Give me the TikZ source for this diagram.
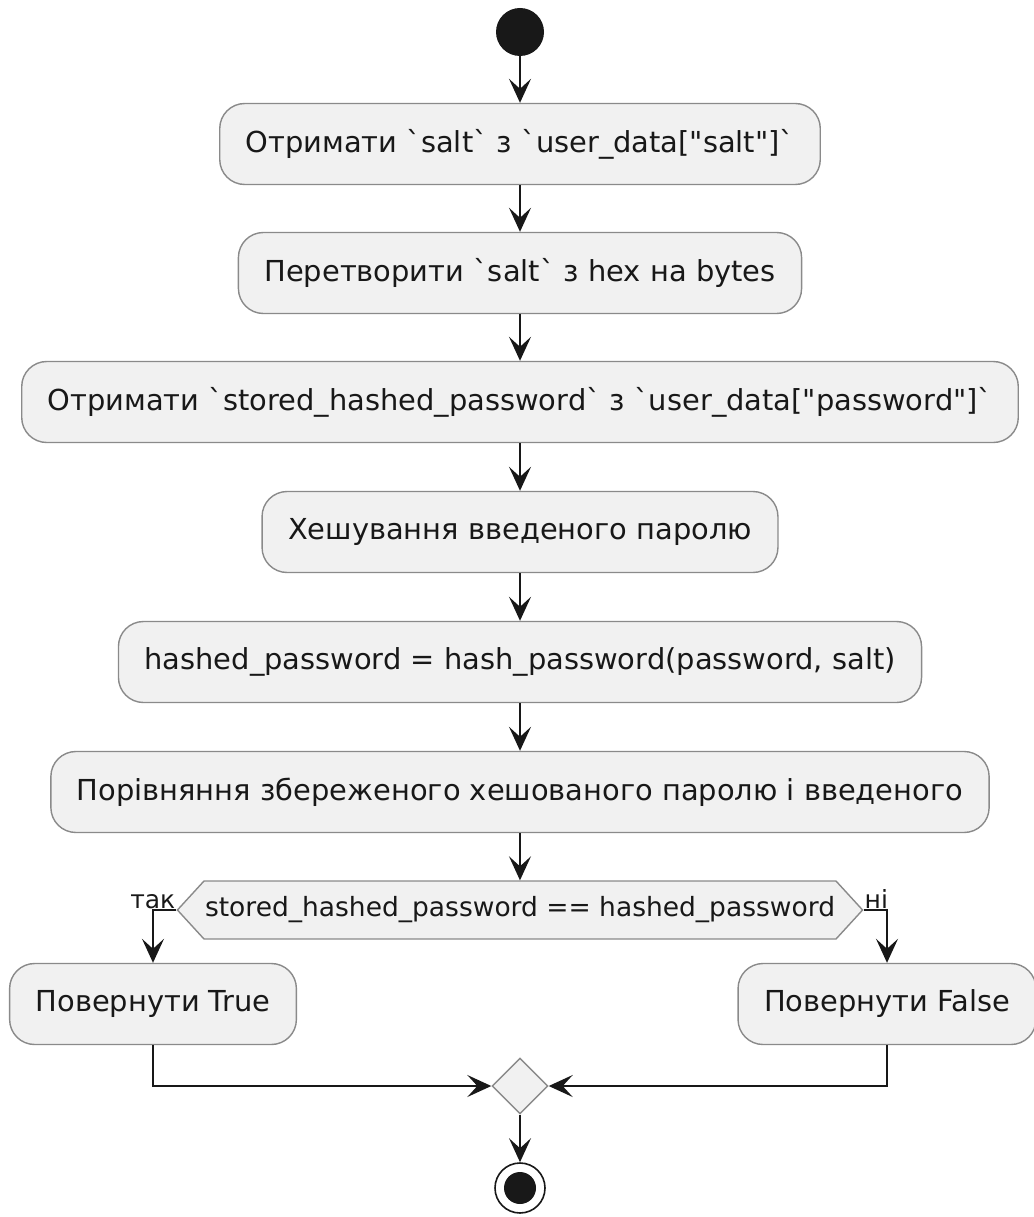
\documentclass[tikz,border=0pt]{standalone}
\usepackage{fontspec}
\setmainfont{DejaVu Sans}[Ligatures=TeXOff]
\usetikzlibrary{arrows.meta,shapes.geometric,shapes.symbols,positioning}
\definecolor{boxfill}{HTML}{F1F1F1}
\definecolor{boxline}{HTML}{8A8A8A}
\definecolor{ink}{HTML}{181818}
\tikzset{
  action/.style={draw=boxline, line width=1.4pt, fill=boxfill, rounded corners=25pt,
    minimum height=81pt, inner xsep=26pt, font=\fontsize{28.9}{34}\selectfont, text=ink},
  flow/.style={draw=ink, line width=1.6pt,
    -{Stealth[length=24pt,width=22pt,inset=10pt]}},
  cond/.style={signal, signal to=west and east, signal from=nowhere, signal pointer angle=95,
    draw=boxline, line width=1.4pt, fill=boxfill, minimum height=58pt, inner xsep=1pt,
    font=\fontsize{26.5}{31}\selectfont, text=ink},
  merge/.style={diamond, draw=boxline, line width=1.4pt, fill=boxfill, minimum size=56pt, inner sep=0pt},
  branch/.style={font=\fontsize{25}{29}\selectfont, text=ink, inner sep=1pt}
}
\begin{document}
\begin{tikzpicture}[x=1pt,y=-1pt]
\useasboundingbox (0,0) rectangle (1033,1217);
% start
\node[circle, fill=ink, minimum size=48pt, inner sep=0pt] (start) at (520,32) {};
% actions
\node[action] (a1) at (520,144) {Отримати `salt` з `user\_data["salt"]`};
\node[action] (a2) at (520,273) {Перетворити `salt` з hex на bytes};
\node[action] (a3) at (520,402) {Отримати `stored\_hashed\_password` з `user\_data["password"]`};
\node[action] (a4) at (520,532) {Хешування введеного паролю};
\node[action] (a5) at (520,662) {hashed\_password = hash\_password(password, salt)};
\node[action] (a6) at (520,792) {Порівняння збереженого хешованого паролю і введеного};
% decision
\node[cond] (dec) at (520,910) {stored\_hashed\_password == hashed\_password};
\node[action] (yes) at (153,1004) {Повернути True};
\node[action] (no) at (887,1004) {Повернути False};
% merge and end
\node[merge] (mrg) at (520,1086) {};
\node[circle, draw=ink, line width=1.6pt, fill=white, minimum size=50pt, inner sep=0pt] (stop) at (520,1188) {};
\node[circle, fill=ink, minimum size=32pt, inner sep=0pt] (stopdot) at (stop) {};
% connectors
\draw[flow] (start) -- (a1);
\draw[flow] (a1) -- (a2);
\draw[flow] (a2) -- (a3);
\draw[flow] (a3) -- (a4);
\draw[flow] (a4) -- (a5);
\draw[flow] (a5) -- (a6);
\draw[flow] (a6) -- (dec);
\draw[flow] (dec.west) -| (yes.north);
\draw[flow] (dec.east) -| (no.north);
\node[branch, anchor=south east] (ltrue) at (dec.west) {так};
\node[branch, anchor=south west] (lfalse) at (dec.east) {ні};
\draw[flow] (yes.south) |- (mrg.west);
\draw[flow] (no.south) |- (mrg.east);
\draw[flow] (mrg.south) -- (stop.north);
\end{tikzpicture}
\end{document}
